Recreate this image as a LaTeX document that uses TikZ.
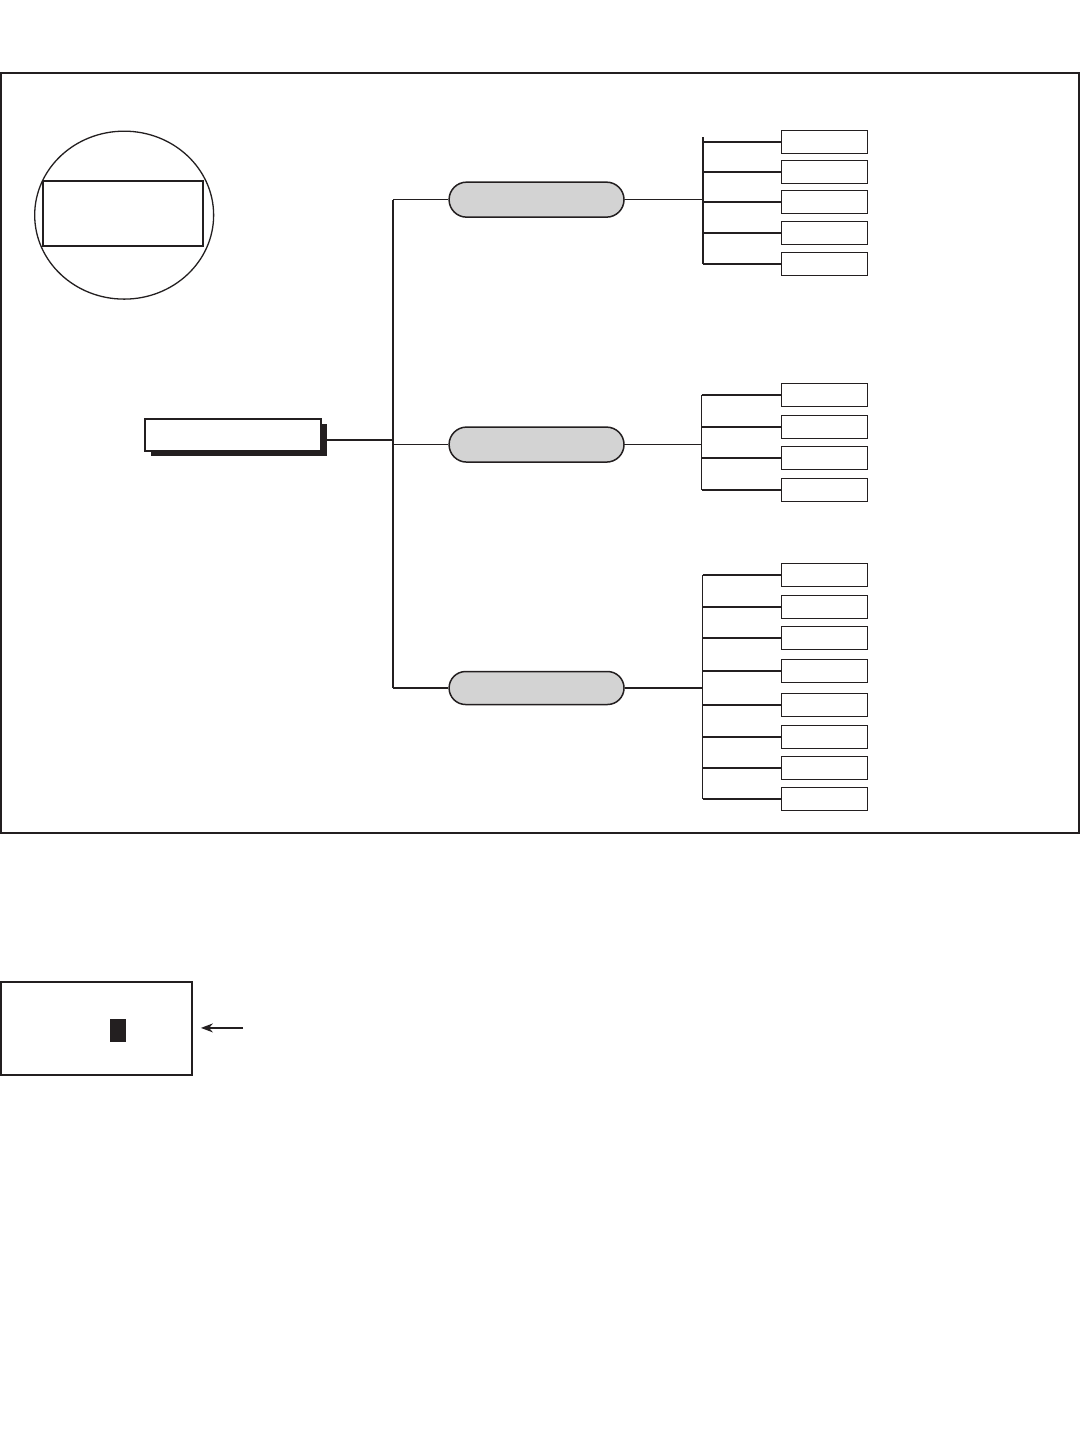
\documentclass[tikz,border=0pt]{standalone}
\usetikzlibrary{shapes.misc,shapes.geometric,arrows.meta}
\definecolor{ink}{HTML}{231F20}
\definecolor{pillgray}{HTML}{D3D3D3}
\begin{document}
\begin{tikzpicture}[x=1pt,y=-1pt,
  every path/.style={draw=ink},
  conn/.style={draw=ink,line width=1.7pt},
  leaf/.style={draw=ink,line width=1.5pt,fill=white,minimum width=86pt,minimum height=23pt,inner sep=0pt},
  pill/.style={rounded rectangle,draw=ink,line width=1.5pt,fill=pillgray,minimum width=175pt,minimum height=35pt,inner sep=0pt},
  rootbox/.style={draw=ink,line width=1.5pt,fill=white,minimum width=176pt,minimum height=32pt,inner sep=0pt},
  shadowbox/.style={fill=ink,draw=none,minimum width=176pt,minimum height=32pt,inner sep=0pt}]
\useasboundingbox (0,0) rectangle (1080,1440);
\fill[white] (0,0) rectangle (1080,1440);
% frame
\draw[line width=2pt] (1,73) rectangle (1079,833);
% circle with rectangle
\node[ellipse,draw=ink,line width=1.3pt,minimum width=179pt,minimum height=168pt,inner sep=0pt] (circ) at (124,215) {};
\node[draw=ink,line width=1.6pt,minimum width=160pt,minimum height=65pt,inner sep=0pt] (circrect) at (123,213.5) {};
% root with shadow
\node[shadowbox] (rootshadow) at (239,440) {};
\node[rootbox] (root) at (233,435) {};
% main bus
\coordinate (mT) at (393,199.5);
\coordinate (mR) at (393,440);
\coordinate (mM) at (393,444.5);
\coordinate (mB) at (393,688);
\draw[conn] (mT) -- (mB);
\draw[conn] ([yshift=-5pt]root.east) -- (mR);
% pills
\node[pill] (pT) at (536.5,199.5) {};
\node[pill] (pM) at (536.5,444.5) {};
\node[pill,minimum height=33pt] (pB) at (536.5,688) {};
\draw[conn] (mT) -- (pT.west);
\draw[conn] (mM) -- (pM.west);
\draw[conn] (mB) -- (pB.west);
% top group
\foreach \i/\y in {1/142,2/172,3/202,4/233,5/264}{
  \node[leaf] (t\i) at (824.5,\y) {};
  \coordinate (tb\i) at (703,\y);
  \draw[conn] (tb\i) -- (t\i.west);
}
\draw[conn] (703,137) -- (tb5);
\coordinate (tin) at (703,199.5);
\draw[conn] (pT.east) -- (tin);
% middle group
\foreach \i/\y in {1/395,2/427,3/458,4/490}{
  \node[leaf] (m\i) at (824.5,\y) {};
  \coordinate (mb\i) at (701.5,\y);
  \draw[conn] (mb\i) -- (m\i.west);
}
\draw[conn] (mb1) -- (mb4);
\coordinate (min) at (701.5,444.5);
\draw[conn] (pM.east) -- (min);
% bottom group
\foreach \i/\y in {1/575,2/607,3/638,4/671,5/705,6/737,7/768,8/799}{
  \node[leaf] (b\i) at (824.5,\y) {};
  \coordinate (bb\i) at (702.5,\y);
  \draw[conn] (bb\i) -- (b\i.west);
}
\draw[conn] (bb1) -- (bb8);
\coordinate (bin) at (702.5,688);
\draw[conn] (pB.east) -- (bin);
% bottom inset
\node[draw=ink,line width=1.6pt,minimum width=191pt,minimum height=93pt,inner sep=0pt] (inset) at (96.5,1028.5) {};
\node[fill=ink,draw=none,minimum width=16pt,minimum height=23pt,inner sep=0pt] (blk) at (118,1030.5) {};
\coordinate (arrtail) at (243,1028);
\draw[line width=1.3pt,-{Stealth[length=12pt,width=9pt]}] (arrtail) -- ([xshift=8pt]inset.east |- arrtail);
\end{tikzpicture}
\end{document}
